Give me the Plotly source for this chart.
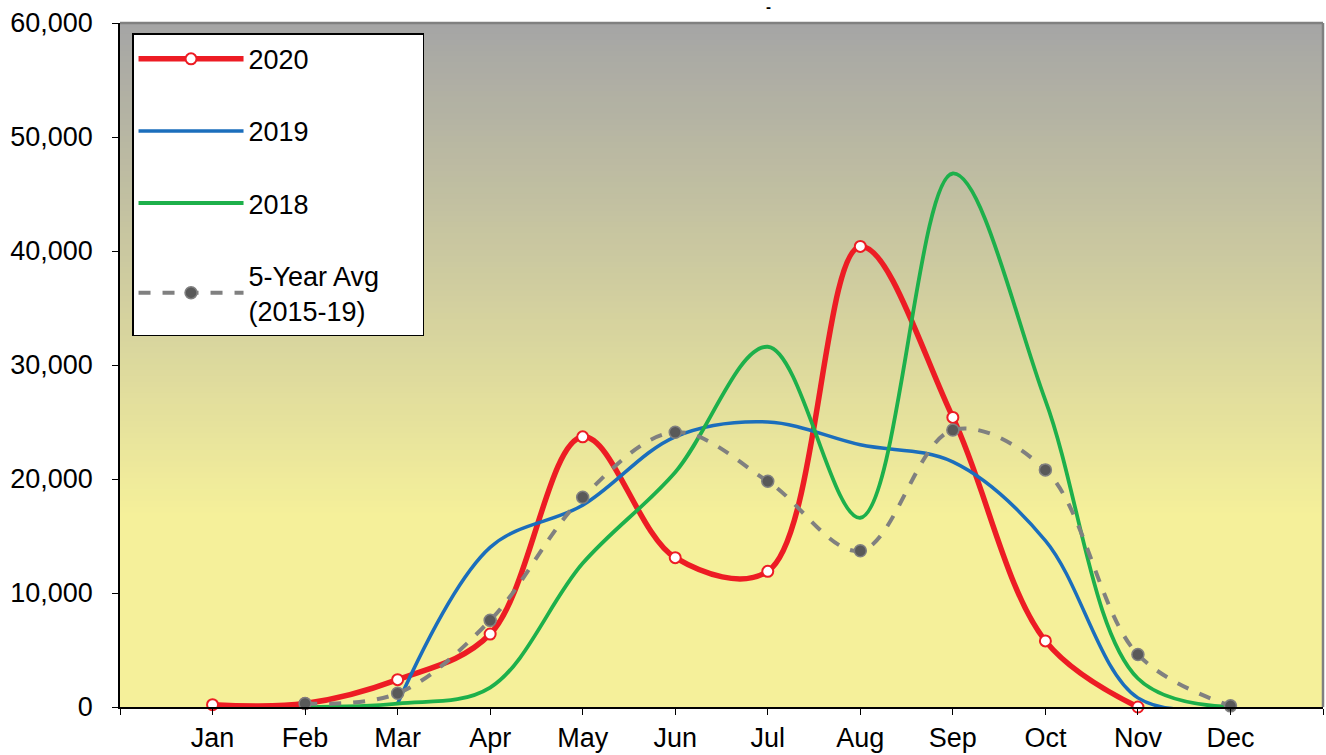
import plotly.graph_objects as go

months = ["Jan", "Feb", "Mar", "Apr", "May", "Jun", "Jul", "Aug", "Sep", "Oct", "Nov", "Dec"]
y2020 = [200, 300, 2400, 6400, 23700, 13100, 11900, 40400, 25400, 5800, 0, None]
y2019 = [None, None, 300, 14000, 17700, 23700, 25000, 23000, 21500, 14600, 800, 0]
y2018 = [None, 0, 300, 1700, 12600, 20600, 31600, 16600, 46800, 26900, 2500, 0]
yavg = [None, 300, 1200, 7600, 18400, 24100, 19800, 13700, 24300, 20800, 4600, 100]

xpos = list(range(len(months)))
FONT = "Liberation Sans, Arial, sans-serif"

fig = go.Figure()
fig.add_trace(go.Scatter(
    x=xpos, y=y2020, name="2020", mode="lines+markers", legendgroup="a",
    line=dict(color="#ED1C24", width=5.5, shape="spline", smoothing=1),
    marker=dict(symbol="circle", size=11, color="white", line=dict(color="#ED1C24", width=2)),
    cliponaxis=False))
fig.add_trace(go.Scatter(
    x=xpos, y=y2019, name="2019", mode="lines", legendgroup="b",
    line=dict(color="#1B6EBC", width=3.5, shape="spline", smoothing=1)))
fig.add_trace(go.Scatter(
    x=xpos, y=y2018, name="2018", mode="lines", legendgroup="c",
    line=dict(color="#1DB04B", width=3.8, shape="spline", smoothing=1)))
fig.add_trace(go.Scatter(
    x=xpos, y=yavg, name="5-Year Avg&nbsp;&nbsp;&nbsp;&nbsp;&nbsp;<br>(2015-19)", mode="lines+markers",
    legendgroup="d",
    line=dict(color="#808080", width=4, shape="spline", smoothing=1, dash="dash"),
    marker=dict(symbol="circle", size=12, color="#595959", line=dict(color="#808080", width=1.5)),
    cliponaxis=False))

# gradient background strips
shapes = []
N = 120
top = (165, 165, 165)
bot = (245, 240, 154)
for i in range(N):
    f0 = i / N
    f1 = (i + 1) / N
    t = min(1.0, ((f0 + f1) / 2) / 0.72)  # fraction from top
    c = tuple(round(top[k] + (bot[k] - top[k]) * t) for k in range(3))
    shapes.append(dict(type="rect", xref="x domain", yref="y domain",
                       x0=0, x1=1, y0=1 - f1, y1=1 - f0 + 0.001, layer="below",
                       line=dict(width=0), fillcolor="rgb(%d,%d,%d)" % c))
shapes.append(dict(type="line", xref="x domain", yref="y domain", x0=0, x1=1, y0=1, y1=1,
                   line=dict(color="#808080", width=2.5), layer="above"))
shapes.append(dict(type="line", xref="x domain", yref="y domain", x0=1, x1=1, y0=0, y1=1,
                   line=dict(color="#808080", width=2.5), layer="above"))

fig.update_layout(
    width=1326, height=755,
    margin=dict(l=120, r=3, t=23, b=48, autoexpand=False),
    paper_bgcolor="white", plot_bgcolor="#F5F09A",
    font=dict(family=FONT, size=27, color="black"),
    title=dict(text="<b>-</b>", x=0.539, xref="paper", y=0.9975, yanchor="top",
               xanchor="center", font=dict(size=15), pad=dict(t=0)),
    shapes=shapes,
    showlegend=True,
    legend=dict(x=0.01, y=0.985, xanchor="left", yanchor="top",
                bgcolor="white", bordercolor="black", borderwidth=1.5,
                tracegroupgap=34, font=dict(size=27), itemwidth=105),
    xaxis=dict(range=[-1, 12], tickvals=list(range(-1, 13)),
               ticktext=[""] + months + [""], showgrid=False, zeroline=False,
               showline=True, linecolor="black", linewidth=1.5, automargin=False,
               ticks="outside", ticklen=6, tickcolor="black"),
    yaxis=dict(range=[0, 60000], dtick=10000, tickformat=",", showgrid=False,
               zeroline=False, showline=True, linecolor="black", linewidth=1.5,
               automargin=False, ticks="outside", ticklen=6, tickcolor="black",
               ticklabelstandoff=14),
)

fig.write_html(
    "out.html",
    config={"displayModeBar": False},
    post_script="document.body.style.margin='0';document.body.style.overflow='hidden';",
)
